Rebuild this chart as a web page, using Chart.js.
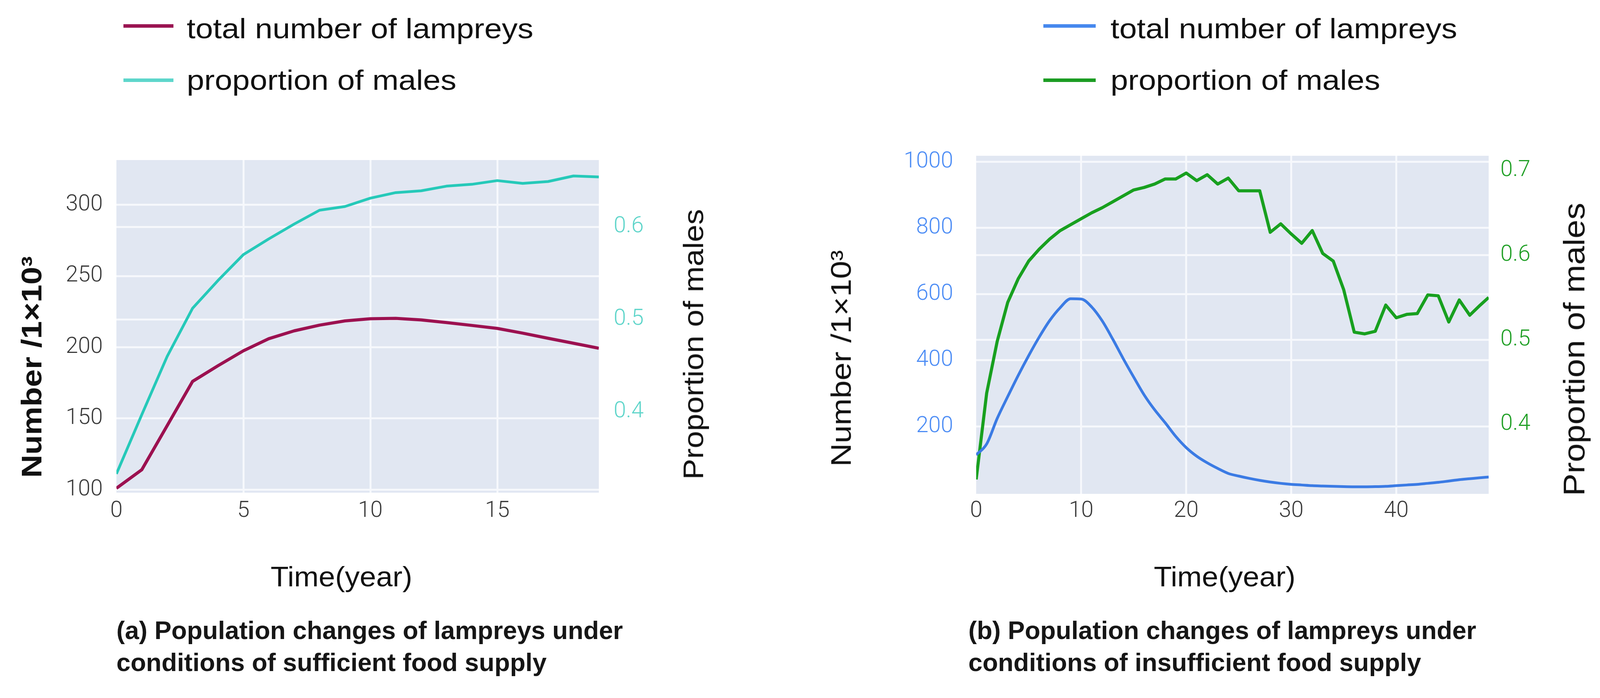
<!DOCTYPE html>
<html>
<head>
<meta charset="utf-8">
<script src="https://cdn.jsdelivr.net/npm/chart.js@4.4.1/dist/chart.umd.min.js"></script>
<style>
  html, body { margin:0; padding:0; background:#fff; }
  body { width:4104px; height:1788px; position:relative; overflow:hidden; }
  canvas { position:absolute; }
  .t { position:absolute; white-space:nowrap; font-family:'Liberation Sans', Arial, sans-serif; color:#111; line-height:1; }
  .leg { position:absolute; height:9px; }
  .rot { transform-origin:50% 50%; }
  .cap { position:absolute; white-space:nowrap; font-family:'Liberation Sans', Arial, sans-serif; font-weight:700; font-size:65px; line-height:82px; color:#161616; }
</style>
</head>
<body>
<!-- legends -->
<div class="leg" style="left:316px; top:62px; width:128px; background:#9a1452;"></div>
<div class="t" style="left:478px; top:37px; font-size:72px; transform:scaleX(1.12); transform-origin:0 0;">total number of lampreys</div>
<div class="leg" style="left:316px; top:201px; width:128px; background:#5dd6cb;"></div>
<div class="t" style="left:478px; top:169px; font-size:72px; transform:scaleX(1.12); transform-origin:0 0;">proportion of males</div>

<div class="leg" style="left:2671px; top:62px; width:134px; background:#4688ee;"></div>
<div class="t" style="left:2843px; top:37px; font-size:72px; transform:scaleX(1.12); transform-origin:0 0;">total number of lampreys</div>
<div class="leg" style="left:2671px; top:201px; width:134px; background:#1b9c22;"></div>
<div class="t" style="left:2843px; top:169px; font-size:72px; transform:scaleX(1.12); transform-origin:0 0;">proportion of males</div>

<canvas id="chartA" width="1900" height="1000" style="left:0px; top:380px; width:1900px; height:1000px;"></canvas>
<canvas id="chartB" width="1954" height="1000" style="left:2150px; top:370px; width:1954px; height:1000px;"></canvas>

<!-- axis titles -->
<div class="t rot" style="left:81px; top:940px; font-size:72px; font-weight:700; transform:translate(-50%,-50%) rotate(-90deg) scaleX(1.14);">Number /1×10³</div>
<div class="t rot" style="left:1775px; top:882px; font-size:72px; transform:translate(-50%,-50%) rotate(-90deg) scaleX(1.11);">Proportion of males</div>
<div class="t rot" style="left:2153px; top:918px; font-size:72px; transform:translate(-50%,-50%) rotate(-90deg) scaleX(1.15);">Number /1×10³</div>
<div class="t rot" style="left:4030px; top:895px; font-size:76px; transform:translate(-50%,-50%) rotate(-90deg) scaleX(1.14);">Proportion of males</div>

<div class="t" style="left:874px; top:1441px; font-size:72px; transform:translateX(-50%) scaleX(1.05);">Time(year)</div>
<div class="t" style="left:3135px; top:1441px; font-size:72px; transform:translateX(-50%) scaleX(1.05);">Time(year)</div>

<!-- captions -->
<div class="cap" style="left:298px; top:1574px;">(a) Population changes of lampreys under<br>conditions of sufficient food supply</div>
<div class="cap" style="left:2479px; top:1574px;">(b) Population changes of lampreys under<br>conditions of insufficient food supply</div>

<script>
// ---------- data (a): sufficient food supply ----------
const yearsA = [0,1,2,3,4,5,6,7,8,9,10,11,12,13,14,15,16,17,18,19];
const totalA = [101,114,145,176,187,197.5,206,211.5,215.5,218.5,220,220.3,219.2,217.3,215.3,213.2,209.9,206.3,202.8,199.3];
const malesA = [0.333,0.397,0.460,0.512,0.542,0.570,0.587,0.603,0.618,0.622,0.631,0.637,0.639,0.644,0.646,0.650,0.647,0.649,0.655,0.654];

// ---------- data (b): insufficient food supply ----------
const yearsB = [0,1,2,3,4,5,6,7,8,9,10,11,12,13,14,15,16,17,18,19,20,21,22,23,24,25,26,27,28,29,30,31,32,33,34,35,36,37,38,39,40,41,42,43,44,45,46,47,48,48.8];
const totalB = [114,147,224,290,354,414,470,520,559,586,585,561,519,464,405,349,295,250,211,170,136,110,90,73,58,50,43,37,32,28,25,23,21,20,19,18,17.5,17.5,18,19,21,23,25,28,31,35,39,42,45,47];
const malesB = [0.335,0.437,0.498,0.544,0.572,0.593,0.607,0.619,0.629,0.636,0.643,0.650,0.656,0.663,0.670,0.677,0.680,0.684,0.690,0.690,0.697,0.688,0.695,0.684,0.691,0.676,0.676,0.676,0.627,0.637,0.625,0.614,0.629,0.602,0.593,0.559,0.509,0.507,0.510,0.541,0.526,0.530,0.531,0.553,0.552,0.521,0.547,0.529,0.541,0.550];

// ---------- tick values ----------
const xTicksA = [0,5,10,15];
const yTicksA = [100,150,200,250,300];
const y1TicksA = [0.4,0.5,0.6];
const xTicksB = [0,10,20,30,40];
const yTicksB = [200,400,600,800,1000];
const y1TicksB = [0.4,0.5,0.6,0.7];

const tickFont = { family: "Roboto, 'Liberation Sans', sans-serif", size: 57, weight: '300', lineHeight: 1 };
const GRID = '#f6f8fc';

const plotBg = {
  id: 'plotBg',
  beforeDraw(chart) {
    const { ctx, chartArea: a } = chart;
    ctx.save();
    ctx.fillStyle = '#e1e7f2';
    ctx.fillRect(a.left, a.top, a.right - a.left, a.bottom - a.top);
    ctx.restore();
  }
};

function gridColor(hidden) {
  return c => (c.tick && hidden.includes(c.tick.value)) ? 'rgba(0,0,0,0)' : GRID;
}
function setTicks(arr) {
  return s => { s.ticks = arr.map(v => ({ value: v })); };
}
function pts(xs, ys) { return xs.map((x, i) => ({ x: x, y: ys[i] })); }

function axis(opts) {
  return {
    type: 'linear',
    position: opts.position,
    min: opts.min, max: opts.max,
    afterBuildTicks: setTicks(opts.ticks),
    afterFit: s => {
      opts.fit(s);
      s.paddingTop = 0; s.paddingBottom = 0; s.paddingLeft = 0; s.paddingRight = 0;
    },
    ticks: { font: tickFont, color: opts.color, padding: opts.padding, autoSkip: false, maxRotation: 0,
             callback: v => String(v) },
    grid: { color: gridColor(opts.hide || []), lineWidth: 5, drawTicks: false },
    border: { display: false }
  };
}

const common = {
  responsive: false,
  devicePixelRatio: 1,
  animation: false,
  events: [],
  plugins: { legend: { display: false }, tooltip: { enabled: false } },
  elements: { point: { radius: 0 } }
};

new Chart(document.getElementById('chartA'), {
  type: 'line',
  data: {
    datasets: [
      { label: 'total number of lampreys', data: pts(yearsA, totalA), yAxisID: 'y',
        borderColor: '#9c1150', borderWidth: 8, tension: 0, borderJoinStyle: 'round' },
      { label: 'proportion of males', data: pts(yearsA, malesA), yAxisID: 'y1',
        borderColor: '#26c9b9', borderWidth: 7, tension: 0, borderJoinStyle: 'round' }
    ]
  },
  options: Object.assign({}, common, {
    layout: { padding: { top: 30, left: 0, right: 0, bottom: 0 } },
    scales: {
      x: axis({ position: 'bottom', min: 0, max: 19, ticks: xTicksA, color: '#3a3a3a', padding: 19,
                fit: s => { s.height = 118; }, hide: [0] }),
      y: axis({ position: 'left', min: 97.9, max: 331.4, ticks: yTicksA, color: '#3a3a3a', padding: 35,
                fit: s => { s.width = 298; } }),
      y1: axis({ position: 'right', min: 0.3127, max: 0.6722, ticks: y1TicksA, color: '#5fd5ca', padding: 38,
                fit: s => { s.width = 367; }, hide: [0.4] })
    }
  }),
  plugins: [plotBg]
});

new Chart(document.getElementById('chartB'), {
  type: 'line',
  data: {
    datasets: [
      { label: 'total number of lampreys', data: pts(yearsB, totalB), yAxisID: 'y',
        borderColor: '#3b7be4', borderWidth: 7, cubicInterpolationMode: 'monotone', borderJoinStyle: 'round' },
      { label: 'proportion of males', data: pts(yearsB, malesB), yAxisID: 'y1',
        borderColor: '#18a01f', borderWidth: 8, tension: 0, borderJoinStyle: 'round' }
    ]
  },
  options: Object.assign({}, common, {
    layout: { padding: { top: 29, left: 0, right: 0, bottom: 0 } },
    scales: {
      x: axis({ position: 'bottom', min: 0, max: 48.8, ticks: xTicksB, color: '#3a3a3a', padding: 16,
                fit: s => { s.height = 105; }, hide: [0] }),
      y: axis({ position: 'left', min: -3.7, max: 1018, ticks: yTicksB, color: '#4d8df5', padding: 59,
                fit: s => { s.width = 349; } }),
      y1: axis({ position: 'right', min: 0.318, max: 0.7174, ticks: y1TicksB, color: '#1f9f25', padding: 30,
                fit: s => { s.width = 293; }, hide: [0.4, 0.7] })
    }
  }),
  plugins: [plotBg]
});
</script>
</body>
</html>
